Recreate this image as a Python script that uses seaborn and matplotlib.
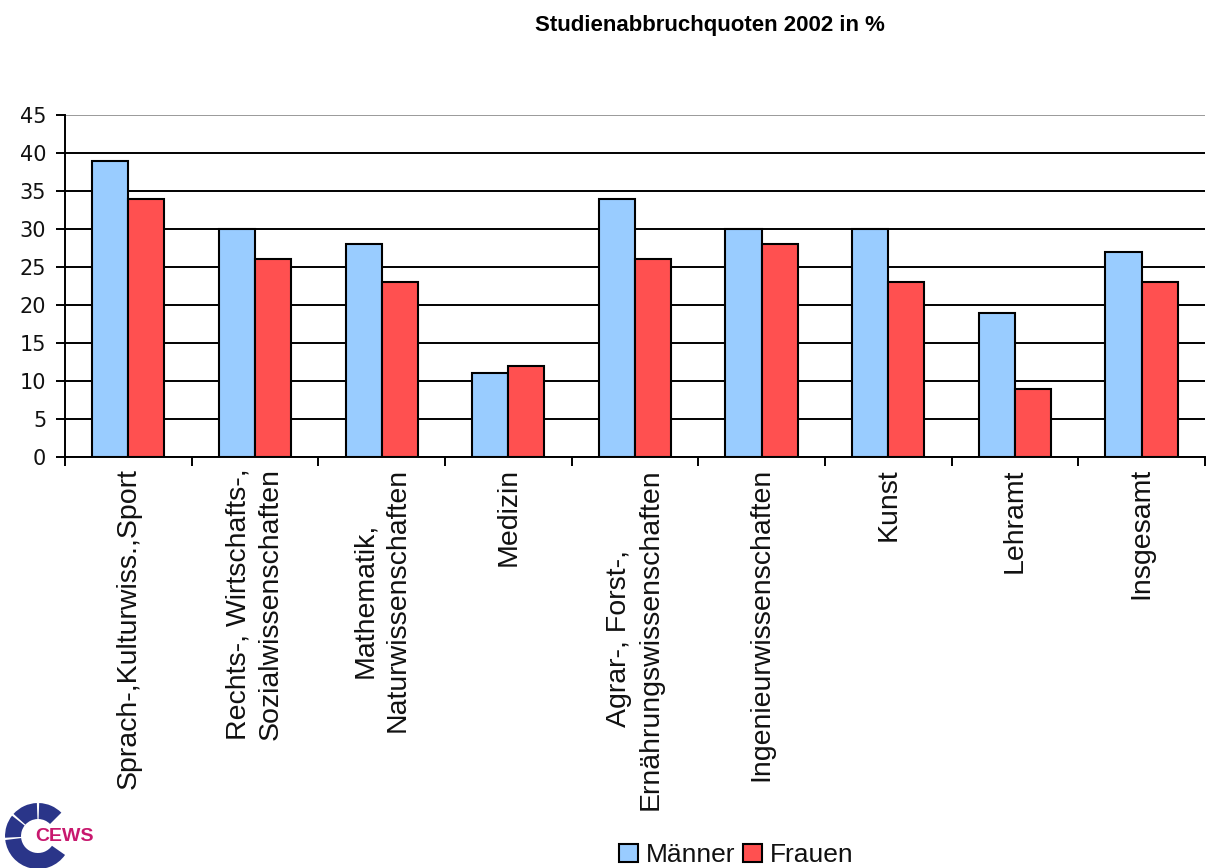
import matplotlib
matplotlib.use("Agg")
import matplotlib.pyplot as plt
from matplotlib.patches import Wedge
import seaborn as sns
import pandas as pd

# Data
categories = [
    "Sprach-,Kulturwiss.,Sport",
    "Rechts-, Wirtschafts-,\nSozialwissenschaften",
    "Mathematik,\nNaturwissenschaften",
    "Medizin",
    "Agrar-, Forst-,\nErnährungswissenschaften",
    "Ingenieurwissenschaften",
    "Kunst",
    "Lehramt",
    "Insgesamt",
]
maenner = [39, 30, 28, 11, 34, 30, 30, 19, 27]
frauen = [34, 26, 23, 12, 26, 28, 23, 9, 23]
series_names = ["Männer", "Frauen"]
y_ticks = [0, 5, 10, 15, 20, 25, 30, 35, 40, 45]

df = pd.DataFrame({
    "Fach": categories * 2,
    "Quote": maenner + frauen,
    "Gruppe": [series_names[0]] * len(categories) + [series_names[1]] * len(categories),
})

sns.set_theme(style="white")
plt.rcParams["font.family"] = ["Liberation Sans", "DejaVu Sans"]
plt.rcParams["text.color"] = "black"

fig = plt.figure(figsize=(12.17, 8.68), dpi=100)
ax = fig.add_axes([0.0534, 0.4735, 0.9366, 0.394])

sns.barplot(
    data=df, x="Fach", y="Quote", hue="Gruppe", ax=ax,
    palette=["#99CCFF", "#FF5050"], width=0.57,
    edgecolor="black", linewidth=1.5, saturation=1, errorbar=None,
)

ax.set_ylim(0, 45)
ax.set_xlim(-0.5, len(categories) - 0.5)
ax.set_yticks(y_ticks)
ax.set_yticklabels([str(t) for t in y_ticks], fontsize=15, color="#111111",
                   family=["DejaVu Sans"])
ax.set_xlabel("")
ax.set_ylabel("")

# gridlines
ax.set_axisbelow(True)
ax.yaxis.grid(True, color="black", linewidth=1.4)
for t, gl in zip(y_ticks, ax.get_ygridlines()):
    if t == 45:
        gl.set_color("#9a9a9a")

for side in ["top", "right"]:
    ax.spines[side].set_visible(False)
for side in ["left", "bottom"]:
    ax.spines[side].set_color("black")
    ax.spines[side].set_linewidth(1.4)

ax.tick_params(axis="y", which="major", direction="out", length=6.5, width=1.4,
               color="black", left=True, pad=7)

# category labels at bar-group centres, tick marks between groups
ax.set_xticks(range(len(categories)))
ax.set_xticklabels(categories, rotation=90, fontsize=20.5, ha="center", va="top",
                   multialignment="center", color="#111111", linespacing=1.3)
ax.set_xticks([i - 0.5 for i in range(len(categories) + 1)], minor=True)
ax.tick_params(axis="x", which="major", length=0, pad=8)
ax.tick_params(axis="x", which="minor", direction="out", length=6.5, width=1.4,
               color="black", bottom=True)

# legend below the chart
sns.move_legend(
    ax, "center", bbox_to_anchor=(0.605, 0.015),
    bbox_transform=fig.transFigure, ncol=2, frameon=False, title=None,
    fontsize=19, handlelength=0.7, handleheight=0.7, handletextpad=0.3,
    columnspacing=0.3, borderpad=0, borderaxespad=0,
)
for txt in ax.get_legend().get_texts():
    txt.set_color("#111111")

fig.text(0.583, 0.971, "Studienabbruchquoten 2002 in %", ha="center", va="center",
         fontsize=16, fontweight="bold", color="black",
         family=["Liberation Sans Narrow", "Liberation Sans", "DejaVu Sans"])

# CEWS logo
lax = fig.add_axes([0.0, 0.0, 0.09, 0.085])
lax.set_xlim(0, 109.5)
lax.set_ylim(0, 73.8)
lax.set_aspect("equal")
lax.axis("off")
cx, cy, r_out, r_in = 38, 32, 33, 17
segments = [(45, 88), (92, 138), (142, 183), (187, 325)]
for a0, a1 in segments:
    lax.add_patch(Wedge((cx, cy), r_out, a0, a1, width=r_out - r_in,
                        facecolor="#2A3589", edgecolor="none"))
lax.text(35, 32, "CEWS", color="#C8186E", fontsize=14, fontweight="bold",
         ha="left", va="center")

fig.savefig("out.png", dpi=100, facecolor="white")
